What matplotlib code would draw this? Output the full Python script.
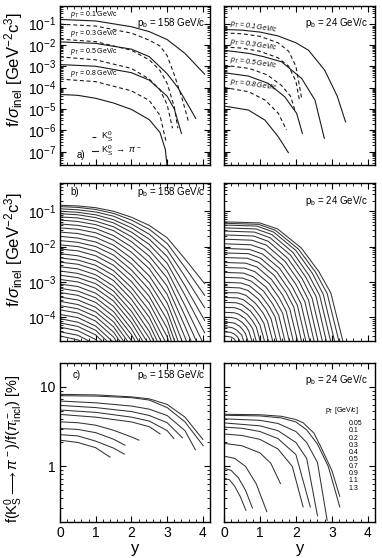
import numpy as np
import matplotlib
matplotlib.use("Agg")
import matplotlib.pyplot as plt
from matplotlib.ticker import LogLocator, MultipleLocator, NullFormatter, FuncFormatter

plt.rcParams["font.family"] = ["Liberation Sans", "DejaVu Sans"]
plt.rcParams["mathtext.fontset"] = "custom"
plt.rcParams["mathtext.rm"] = "Liberation Sans"
plt.rcParams["mathtext.it"] = "Liberation Sans:italic"
plt.rcParams["mathtext.bf"] = "Liberation Sans:bold"
plt.rcParams["mathtext.sf"] = "Liberation Sans"

# ---------------- data (log10 of the plotted quantity) ----------------
# panel a, p_b = 158 GeV/c ; order pT = 0.1, 0.3, 0.5, 0.8
a_pt = ["0.1", "0.3", "0.5", "0.8"]
a158_solid_x = [[0, 1, 2, 2.5, 3, 3.5, 4.05],
                [0, 1, 2, 2.5, 3, 3.3, 3.6, 3.8],
                [0, 1, 2, 2.5, 3, 3.2, 3.4],
                [0, 0.5, 1, 1.5, 2, 2.5, 2.8, 2.95, 3.0]]
a158_solid_lg = [[-0.81, -0.88, -1.15, -1.38, -1.75, -2.4, -3.37],
                 [-1.86, -1.93, -2.2, -2.55, -3.35, -4.0, -4.85, -5.44],
                 [-2.92, -3.0, -3.3, -3.65, -4.4, -5.0, -6.14],
                 [-4.32, -4.36, -4.5, -4.72, -5.02, -5.5, -6.1, -6.9, -7.7]]
a158_dash_x = [[0, 1, 2, 2.5, 2.8, 3.0, 3.2, 3.4, 3.6],
               [0, 1, 2, 2.5, 2.8, 3.0, 3.2, 3.3],
               [0, 1, 2, 2.5, 2.8, 3.0, 3.15],
               [0, 1, 2, 2.5, 2.8, 2.98]]
a158_dash_lg = [[-1.03, -1.12, -1.45, -1.78, -2.05, -2.5, -3.4, -4.4, -5.6],
                [-1.73, -1.85, -2.25, -2.7, -3.2, -3.8, -4.9, -5.9],
                [-2.56, -2.7, -3.1, -3.6, -4.1, -4.8, -5.9],
                [-3.6, -3.72, -4.15, -4.6, -5.3, -6.6]]

# panel a, p_b = 24 GeV/c
a24_solid_x = [[0, 0.5, 1, 1.5, 2, 2.35, 2.8, 3.15, 3.38],
               [0, 0.7, 1.1, 1.6, 2.16, 2.53, 2.79],
               [0, 0.68, 1.23, 1.69, 2.02, 2.18],
               [0, 0.68, 1.14, 1.51, 1.79]]
a24_solid_lg = [[-1.28, -1.31, -1.40, -1.58, -1.9, -2.25, -3.18, -4.4, -5.6],
                [-2.25, -2.4, -2.55, -2.79, -3.57, -4.58, -6.37],
                [-3.3, -3.46, -3.8, -4.43, -5.2, -6.14],
                [-4.86, -5.05, -5.52, -6.3, -7.04]]
a24_dash_x = [[0, 0.5, 1, 1.5, 1.8, 2.0, 2.16],
              [0, 0.5, 1, 1.5, 1.8, 2.0, 2.1],
              [0, 0.7, 1.2, 1.6, 1.85, 1.97],
              [0, 0.68, 1.14, 1.51, 1.74]]
a24_dash_lg = [[-1.44, -1.48, -1.6, -1.9, -2.3, -3.0, -4.5],
               [-2.1, -2.15, -2.3, -2.6, -3.0, -3.7, -4.6],
               [-2.95, -3.1, -3.4, -3.9, -4.4, -5.05],
               [-3.99, -4.19, -4.58, -5.2, -5.98]]

# panel b, p_b = 158 GeV/c : common rapidity grid, one row per pT bin
b158_x = [0, 0.5, 1.0, 1.5, 2.0, 2.5, 3.0, 3.5, 4.05]
b158_lg = [
    [-0.83, -0.85, -0.90, -1.00, -1.17, -1.40, -1.75, -2.35, -3.05],
    [-0.87, -0.89, -0.95, -1.06, -1.25, -1.51, -1.91, -2.59, -3.38],
    [-0.93, -0.96, -1.02, -1.14, -1.36, -1.65, -2.09, -2.85, -3.73],
    [-1.00, -1.03, -1.10, -1.24, -1.47, -1.79, -2.28, -3.11, -4.09],
    [-1.07, -1.10, -1.18, -1.33, -1.59, -1.94, -2.47, -3.38, -4.44],
    [-1.16, -1.19, -1.28, -1.44, -1.72, -2.10, -2.68, -3.67, -4.82],
    [-1.25, -1.29, -1.38, -1.55, -1.86, -2.27, -2.89, -3.96, -5.20],
    [-1.36, -1.40, -1.49, -1.69, -2.01, -2.45, -3.12, -4.26, -5.60],
    [-1.47, -1.51, -1.61, -1.82, -2.16, -2.63, -3.35, -4.57, -6.00],
    [-1.59, -1.63, -1.74, -1.96, -2.33, -2.83, -3.59, -4.89],
    [-1.71, -1.76, -1.87, -2.10, -2.49, -3.02, -3.83, -5.21],
    [-1.83, -1.88, -2.00, -2.24, -2.66, -3.22, -4.07, -5.52],
    [-1.95, -2.00, -2.13, -2.39, -2.82, -3.41, -4.31, -5.84],
    [-2.07, -2.12, -2.26, -2.53, -2.99, -3.60, -4.55, -6.16],
    [-2.20, -2.26, -2.40, -2.68, -3.16, -3.81, -4.79],
    [-2.32, -2.38, -2.53, -2.82, -3.32, -4.00, -5.03],
    [-2.44, -2.50, -2.66, -2.96, -3.49, -4.20, -5.27],
    [-2.57, -2.63, -2.80, -3.12, -3.66, -4.40, -5.52],
    [-2.69, -2.76, -2.92, -3.26, -3.83, -4.59, -5.76],
    [-2.81, -2.88, -3.05, -3.40, -3.99, -4.79],
    [-2.93, -3.00, -3.18, -3.54, -4.15, -4.98],
    [-3.06, -3.13, -3.32, -3.69, -4.33, -5.19],
    [-3.18, -3.26, -3.45, -3.84, -4.49, -5.38],
    [-3.30, -3.38, -3.58, -3.98, -4.66, -5.57],
    [-3.43, -3.51, -3.72, -4.13, -4.83],
    [-3.55, -3.64, -3.85, -4.27, -5.00],
    [-3.67, -3.76, -3.98, -4.42, -5.16],
    [-3.79, -3.88, -4.11, -4.56, -5.32],
    [-3.92, -4.01, -4.25, -4.71, -5.50],
    [-4.04, -4.14, -4.37, -4.85],
    [-4.16, -4.26, -4.50, -4.99],
    [-4.28, -4.38, -4.63, -5.14],
    [-4.41, -4.51, -4.77, -5.29],
    [-4.53, -4.64, -4.90],
]

# panel b, p_b = 24 GeV/c : one (x, log10) list per pT bin
b24_x = [
    [0, 0.99, 1.49, 2.15, 2.64, 2.97, 3.30, 3.50],
    [0, 0.96, 1.43, 2.07, 2.55, 2.87, 3.19, 3.38],
    [0, 0.92, 1.38, 2.00, 2.46, 2.76, 3.07, 3.25],
    [0, 0.89, 1.33, 1.92, 2.36, 2.66, 2.96, 3.13],
    [0, 0.85, 1.28, 1.85, 2.27, 2.56, 2.84, 3.01],
    [0, 0.82, 1.23, 1.77, 2.18, 2.45, 2.73, 2.89],
    [0, 0.78, 1.18, 1.70, 2.09, 2.35, 2.61, 2.77],
    [0, 0.75, 1.12, 1.62, 2.00, 2.25, 2.50, 2.65],
    [0, 0.71, 1.07, 1.55, 1.90, 2.14, 2.38, 2.52],
    [0, 0.68, 1.02, 1.47, 1.81, 2.04, 2.27, 2.40],
    [0, 0.65, 0.97, 1.40, 1.72, 1.94, 2.15, 2.28],
    [0, 0.61, 0.92, 1.32, 1.63, 1.83, 2.04, 2.16],
    [0, 0.58, 0.86, 1.25, 1.54, 1.73, 1.92, 2.04],
    [0, 0.54, 0.81, 1.17, 1.44, 1.63, 1.81, 1.91],
    [0, 0.51, 0.76, 1.10, 1.35, 1.52, 1.69, 1.79],
    [0, 0.47, 0.71, 1.02, 1.26, 1.42, 1.58, 1.67],
    [0, 0.44, 0.66, 0.95, 1.17, 1.31, 1.46, 1.55],
    [0, 0.40, 0.61, 0.87, 1.08, 1.21, 1.35, 1.43],
    [0, 0.37, 0.55, 0.80, 0.98, 1.11, 1.23, 1.30],
    [0, 0.34, 0.50, 0.73, 0.89, 1.00, 1.12, 1.18],
    [0, 0.30, 0.45, 0.65, 0.80, 0.90, 1.00, 1.06],
    [0, 0.27, 0.40, 0.58, 0.71, 0.80, 0.89, 0.94],
    [0, 0.23, 0.35, 0.50, 0.62, 0.69, 0.77, 0.82],
    [0, 0.20, 0.30, 0.43, 0.52, 0.59, 0.66, 0.69],
    [0, 0.16, 0.24, 0.35, 0.43, 0.49, 0.54, 0.57],
    [0, 0.13, 0.19, 0.28, 0.34, 0.38, 0.43, 0.45],
    [0, 0.09, 0.14, 0.20, 0.25, 0.28, 0.31, 0.33],
]
b24_lg = [
    [-1.30, -1.33, -1.50, -2.04, -2.71, -3.31, -4.65, -6.33],
    [-1.34, -1.37, -1.54, -2.07, -2.73, -3.33, -4.65, -6.31],
    [-1.39, -1.42, -1.59, -2.11, -2.76, -3.35, -4.65, -6.28],
    [-1.47, -1.50, -1.66, -2.17, -2.81, -3.38, -4.65, -6.24],
    [-1.56, -1.59, -1.75, -2.24, -2.86, -3.41, -4.65, -6.20],
    [-1.67, -1.70, -1.85, -2.33, -2.92, -3.46, -4.65, -6.14],
    [-1.79, -1.82, -1.96, -2.42, -2.99, -3.51, -4.65, -6.08],
    [-1.92, -1.95, -2.08, -2.52, -3.07, -3.56, -4.65, -6.02],
    [-2.05, -2.08, -2.21, -2.62, -3.14, -3.61, -4.65, -5.95],
    [-2.18, -2.20, -2.33, -2.72, -3.22, -3.66, -4.65, -5.89],
    [-2.31, -2.33, -2.45, -2.82, -3.29, -3.71, -4.65, -5.82],
    [-2.45, -2.47, -2.58, -2.93, -3.37, -3.77, -4.65, -5.75],
    [-2.59, -2.61, -2.71, -3.04, -3.46, -3.83, -4.65, -5.68],
    [-2.73, -2.75, -2.85, -3.15, -3.54, -3.88, -4.65, -5.61],
    [-2.87, -2.89, -2.98, -3.26, -3.62, -3.94, -4.65, -5.54],
    [-3.01, -3.03, -3.11, -3.37, -3.70, -3.99, -4.65, -5.47],
    [-3.15, -3.17, -3.24, -3.48, -3.78, -4.05, -4.65, -5.40],
    [-3.30, -3.31, -3.38, -3.60, -3.87, -4.11, -4.65, -5.33],
    [-3.44, -3.45, -3.51, -3.71, -3.95, -4.17, -4.65, -5.26],
    [-3.58, -3.59, -3.64, -3.82, -4.03, -4.22, -4.65, -5.19],
    [-3.72, -3.73, -3.78, -3.92, -4.11, -4.28, -4.65, -5.12],
    [-3.86, -3.87, -3.91, -4.03, -4.19, -4.33, -4.65, -5.05],
    [-4.00, -4.01, -4.04, -4.14, -4.27, -4.39, -4.65, -4.98],
    [-4.14, -4.15, -4.17, -4.25, -4.35, -4.45, -4.65, -4.91],
    [-4.28, -4.28, -4.30, -4.36, -4.44, -4.50, -4.65, -4.84],
    [-4.42, -4.42, -4.43, -4.47, -4.52, -4.56, -4.65, -4.77],
    [-4.54, -4.54, -4.55, -4.56, -4.59, -4.61, -4.65, -4.71],
]

# panel c : ratio in %, pT bins [GeV/c]
c_pt = ["0.05", "0.1", "0.2", "0.3", "0.4", "0.5", "0.7", "0.9", "1.1", "1.3"]
c158_x = [[0, 1, 2, 2.5, 3, 3.5, 4.0],
          [0, 1, 2, 2.5, 3, 3.5, 4.01],
          [0, 1, 2, 2.5, 3, 3.5, 3.79],
          [0, 1, 2, 2.5, 3, 3.43],
          [0, 1, 2, 2.5, 3, 3.19],
          [0, 1, 2, 2.5, 2.8],
          [0, 0.5, 1, 1.5, 2, 2.21],
          [0, 0.5, 1, 1.5, 1.82],
          [0, 0.5, 1, 1.5, 1.8],
          [0, 0.5, 1, 1.4]]
c158_val = [[8.07, 7.94, 7.50, 7.08, 6.03, 4.17, 2.19],
            [7.76, 7.67, 7.33, 6.84, 5.50, 3.63, 1.82],
            [6.65, 6.31, 5.75, 5.25, 4.37, 2.82, 1.62],
            [5.86, 5.50, 4.90, 4.37, 3.55, 2.29],
            [5.12, 4.79, 4.17, 3.72, 2.82, 2.24],
            [4.51, 4.17, 3.63, 3.16, 2.57],
            [3.64, 3.55, 3.30, 2.85, 2.35, 2.14],
            [3.00, 2.92, 2.66, 2.20, 1.85],
            [2.51, 2.42, 2.08, 1.70, 1.43],
            [2.14, 2.00, 1.72, 1.31]]
c24_x = [[0, 1, 1.6, 2.0, 2.2, 2.5, 2.7, 3.0, 3.22],
         [0, 1, 1.6, 2.0, 2.3, 2.6, 2.9, 3.22],
         [0, 1, 1.5, 2.0, 2.3, 2.6, 2.87],
         [0, 1, 1.5, 2.0, 2.3, 2.6],
         [0, 0.5, 1, 1.5, 2.0, 2.4],
         [0, 0.5, 1, 1.5, 1.9, 2.2],
         [0, 0.5, 1, 1.3, 1.57],
         [0, 0.3, 0.6, 0.9, 1.19],
         [0, 0.2, 0.4, 0.6, 0.79],
         [0, 0.15, 0.3, 0.45, 0.61]]
c24_val = [[4.53, 4.47, 4.27, 3.89, 3.55, 2.63, 1.74, 0.89, 0.42],
           [4.40, 4.32, 4.07, 3.63, 2.88, 1.91, 1.00, 0.31],
           [3.97, 3.80, 3.47, 2.75, 2.00, 1.12, 0.21],
           [3.53, 3.24, 2.82, 2.00, 1.26, 0.24],
           [3.12, 3.02, 2.75, 2.24, 1.41, 0.31],
           [2.56, 2.45, 2.19, 1.66, 1.00, 0.31],
           [1.95, 1.82, 1.48, 1.10, 0.61],
           [1.35, 1.26, 1.00, 0.60, 0.27],
           [0.95, 0.89, 0.72, 0.50, 0.30],
           [0.71, 0.68, 0.56, 0.42, 0.28]]

# ---------------- figure ----------------
W, H = 382, 558
fig = plt.figure(figsize=(W / 100, H / 100), dpi=100)

cols = [(60, 150), (224, 151)]
rows = [(6, 165), (183, 340.5), (363, 522)]


def make_axes(col, row):
    x0, w = cols[col]
    top, bot = rows[row]
    return fig.add_axes([x0 / W, 1 - bot / H, w / W, (bot - top) / H])


def style(ax, ylim, xlabels=False, ylabels=True):
    ax.set_xlim(0, 4.2)
    ax.set_yscale("log")
    ax.set_ylim(*ylim)
    ax.xaxis.set_major_locator(MultipleLocator(1))
    ax.xaxis.set_minor_locator(MultipleLocator(0.2))
    ax.yaxis.set_major_locator(LogLocator(base=10, numticks=20))
    ax.yaxis.set_minor_locator(LogLocator(base=10, subs=np.arange(2, 10), numticks=20))
    ax.yaxis.set_minor_formatter(NullFormatter())
    ax.tick_params(which="both", direction="in", top=True, right=True, labelsize=10, pad=3)
    ax.tick_params(which="major", length=4, width=0.8)
    ax.tick_params(which="minor", length=2, width=0.6)
    ax.tick_params(labelbottom=xlabels, labelleft=ylabels)
    for s in ax.spines.values():
        s.set_linewidth(1.0)


def draw(ax, xs, lgs, **kw):
    for x, lg in zip(xs, lgs):
        ax.plot(x, 10.0 ** np.asarray(lg), **kw)


line = dict(color="#1a1a1a", lw=0.8)
dash = dict(color="#1a1a1a", lw=0.8, ls=(0, (3.5, 2.5)))
mid = dict(color="#333333", lw=0.75)

axes = [[make_axes(c, r) for c in range(2)] for r in range(3)]

# --- a) ---
ax = axes[0][0]
style(ax, (2.4e-8, 0.66))
draw(ax, a158_solid_x, a158_solid_lg, **line)
draw(ax, a158_dash_x, a158_dash_lg, **dash)
for pt, ylab in zip(a_pt, [-0.6, -1.47, -2.29, -3.34]):
    ax.text(0.28, 10 ** ylab, r"$p_{T}$ = " + pt + " GeV/c", fontsize=5, va="center")
ax.text(0.97, 0.893, r"p$_{\rm b}$ = 158 GeV/c", transform=ax.transAxes, ha="right", va="center", fontsize=7)
ax.text(0.11, 0.063, "a)", transform=ax.transAxes, ha="left", va="center", fontsize=7)
ax.plot([0.21, 0.255], [0.178, 0.178], transform=ax.transAxes, **dash)
ax.plot([0.21, 0.255], [0.09, 0.09], transform=ax.transAxes, **line)
ax.text(0.275, 0.178, r"K$^0_{\rm S}$", transform=ax.transAxes, va="center", fontsize=6.5)
ax.text(0.275, 0.09, r"K$^0_{\rm S}$ $\rightarrow$ $\pi^-$", transform=ax.transAxes, va="center", fontsize=6.5)

ax = axes[0][1]
style(ax, (2.4e-8, 0.66), ylabels=False)
draw(ax, a24_solid_x, a24_solid_lg, **line)
draw(ax, a24_dash_x, a24_dash_lg, **dash)
for pt, ylab in zip(a_pt, [-1.0, -1.86, -2.7, -3.73]):
    ax.text(0.17, 10 ** ylab, r"$p_{T}$ = " + pt + " GeV/c", fontsize=5, va="center",
            style="italic", rotation=-8, rotation_mode="anchor")
ax.text(0.955, 0.893, r"p$_{\rm b}$ = 24 GeV/c", transform=ax.transAxes, ha="right", va="center", fontsize=7)

# --- b) ---
ax = axes[1][0]
style(ax, (2.2e-5, 0.63))
draw(ax, [b158_x[:len(r)] for r in b158_lg], b158_lg, **mid)
ax.text(0.067, 0.94, "b)", transform=ax.transAxes, va="center", fontsize=7)
ax.text(0.97, 0.94, r"p$_{\rm b}$ = 158 GeV/c", transform=ax.transAxes, ha="right", va="center", fontsize=7)

ax = axes[1][1]
style(ax, (2.2e-5, 0.63), ylabels=False)
draw(ax, b24_x, b24_lg, **mid)
ax.text(0.955, 0.887, r"p$_{\rm b}$ = 24 GeV/c", transform=ax.transAxes, ha="right", va="center", fontsize=7)

# --- c) ---
ax = axes[2][0]
style(ax, (0.2, 20), xlabels=True)
ax.yaxis.set_major_formatter(FuncFormatter(lambda v, p: f"{v:g}"))
for x, v in zip(c158_x, c158_val):
    ax.plot(x, v, **mid)
ax.text(0.087, 0.926, "c)", transform=ax.transAxes, va="center", fontsize=7)
ax.text(0.97, 0.926, r"p$_{\rm b}$ = 158 GeV/c", transform=ax.transAxes, ha="right", va="center", fontsize=7)

ax = axes[2][1]
style(ax, (0.2, 20), xlabels=True, ylabels=False)
for x, v in zip(c24_x, c24_val):
    ax.plot(x, v, **mid)
ax.text(0.955, 0.89, r"p$_{\rm b}$ = 24 GeV/c", transform=ax.transAxes, ha="right", va="center", fontsize=7)
ax.text(0.67, 0.70, r"p$_{\rm T}$ [GeV/c]", transform=ax.transAxes, va="center", fontsize=5)
for i, pt in enumerate(c_pt):
    ax.text(0.823, 0.618 - i * 0.045, pt, transform=ax.transAxes, va="center", fontsize=5)

# axis titles
ylab = r"f/$\sigma_{\rm inel}$ [GeV$^{-2}$c$^3$]"
fig.text(14 / W, 1 - 70 / H, ylab, rotation=90, ha="center", va="center", fontsize=12)
fig.text(14 / W, 1 - 250 / H, ylab, rotation=90, ha="center", va="center", fontsize=12)
fig.text(14 / W, 1 - 449 / H,
         r"f(K$^0_{\rm S}$$\longrightarrow$$\pi^-$)/f($\pi^-_{\rm incl}$) [%]",
         rotation=90, ha="center", va="center", fontsize=10.5)
fig.text(135 / W, 1 - 548 / H, "y", ha="center", va="center", fontsize=12)
fig.text(300 / W, 1 - 548 / H, "y", ha="center", va="center", fontsize=12)

fig.savefig("out.png", dpi=100)
